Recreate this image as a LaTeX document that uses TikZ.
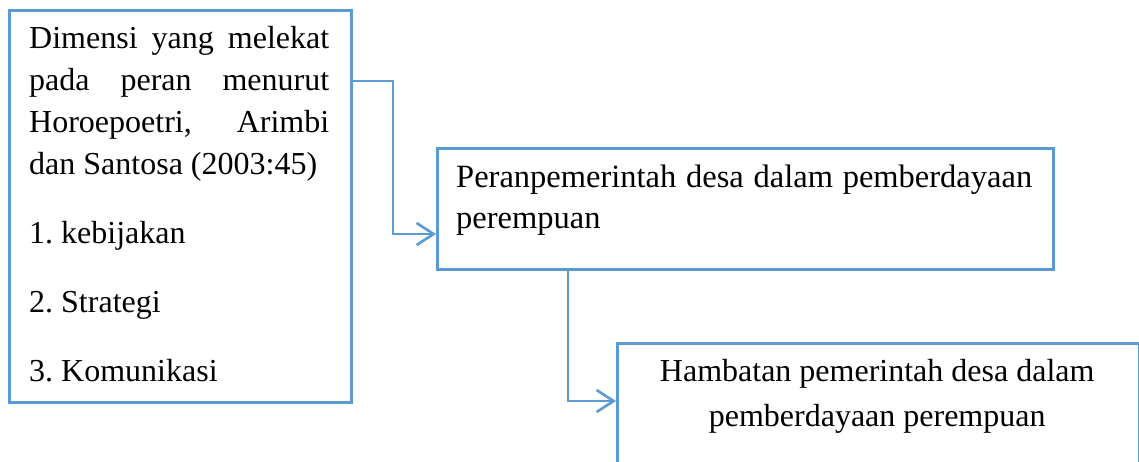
\documentclass[tikz,border=0pt]{standalone}
\usepackage{fontspec}
\setmainfont{Liberation Serif}
\usetikzlibrary{arrows.meta}
\definecolor{boxblue}{HTML}{5B9BD5}
\frenchspacing
\begin{document}
\begin{tikzpicture}[x=1pt,y=-1pt,
  box/.style={draw=boxblue, line width=2.6pt, rectangle, inner sep=0pt, anchor=north west},
  conn/.style={draw=boxblue, line width=2.6pt, -{Straight Barb[length=17pt,width=22pt]}},
  txt/.style={anchor=base west, inner sep=0pt}]
\clip (0,0) rectangle (1139,461);
\fill[white] (0,0) rectangle (1139,461);
% boxes
\node[box, minimum width=342pt, minimum height=392pt] (dim) at (8,9) {};
\node[box, minimum width=616pt, minimum height=121pt] (peran) at (436,147) {};
\node[box, minimum width=522pt, minimum height=200pt] (hamb) at (616,342) {};
% texts
\node[txt] (dimtxt) at (29,48) {\parbox[t]{300pt}{\fontsize{32}{42}\selectfont\frenchspacing\parindent=0pt\parskip=27pt
Dimensi yang melekat\linebreak pada peran menurut\linebreak Horoepoetri, Arimbi\linebreak dan Santosa (2003:45)\par
1. kebijakan\par
2. Strategi\par
3. Komunikasi}};
\node[txt] (perantxt) at (456,187) {\parbox[t]{576pt}{\fontsize{32.5}{41}\selectfont\frenchspacing\parindent=0pt
Peranpemerintah desa dalam pemberdayaan\linebreak perempuan}};
\node[txt] (hambtxt) at (627,381) {\parbox[t]{500pt}{\fontsize{32}{45}\selectfont\frenchspacing\centering
Hambatan pemerintah desa dalam\\ pemberdayaan perempuan}};
% connectors
\coordinate (j1) at (393,81);
\coordinate (a1) at (393,234);
\draw[conn] (dim.east |- j1) -- (j1) -- (a1) -- (peran.west |- a1);
\coordinate (j2) at (568,401);
\draw[conn] (peran.south -| j2) -- (j2) -- (hamb.west |- j2);
\end{tikzpicture}
\end{document}
